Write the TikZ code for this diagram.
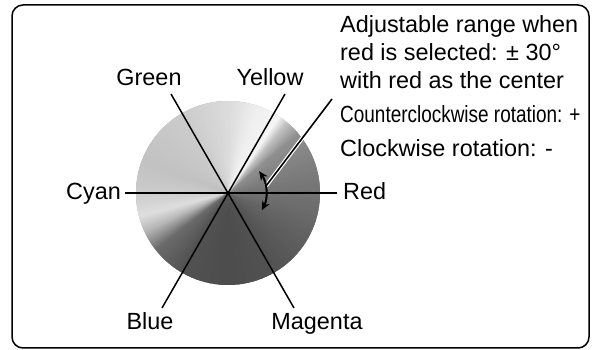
\documentclass[tikz,border=0pt]{standalone}
\usepackage{fontspec}
\setmainfont{Liberation Sans}
\usepackage{graphicx}
\usetikzlibrary{arrows.meta}
\begin{document}
\begin{tikzpicture}[x=1pt,y=1pt,
  lbl/.style={inner sep=0pt, font=\fontsize{23.4}{27}\selectfont},
  spoke/.style={draw=black, line width=1.5pt},
  frame/.style={draw=black, line width=1.5pt, rounded corners=11pt}]
\useasboundingbox (0,0) rectangle (594,350);
\draw[frame] (12,2) rectangle (589,345);
\coordinate (C) at (228,157);
% conical grey shading
\fill[black!40] (C) circle[radius=92];
\foreach \a/\pa/\b/\pb in {0/55/20/50, 20/50/40/44, 40/44/50/24, 50/24/56/4, 56/4/70/6, 70/6/90/14, 90/14/120/20, 120/20/160/24, 160/24/180/20, 180/20/195/13, 195/13/205/28, 205/28/218/58, 218/58/240/68, 240/68/270/70, 270/70/300/68, 300/68/330/62, 330/62/360/55} {
  \foreach \i in {0,...,9} {
    \pgfmathsetmacro\s{\a+(\b-\a)*\i/10}
    \pgfmathsetmacro\e{\a+(\b-\a)*(\i+1)/10+1.2}
    \pgfmathsetmacro\p{\pa+(\pb-\pa)*(\i+0.5)/10}
    \fill[black!\p] (C) -- +(\s:92) arc[start angle=\s, end angle=\e, radius=92] -- cycle;
  }
}
% spoke ends
\coordinate (cyanEnd) at (125,157);
\coordinate (redEnd) at (337,157);
\coordinate (greenEnd) at (171,256);
\coordinate (yellowEnd) at (285,256);
\coordinate (blueEnd) at (162,42);
\coordinate (magentaEnd) at (294,42);
\draw[spoke] (cyanEnd) -- (redEnd);
\draw[spoke] (greenEnd) -- (magentaEnd);
\draw[spoke] (yellowEnd) -- (blueEnd);
% labels
\node[lbl, anchor=base east] (cyan) at (121,150) {Cyan};
\node[lbl, anchor=base west] (red) at (343,150) {Red};
\node[lbl, anchor=base] (green) at (149,264) {Green};
\node[lbl, anchor=base] (yellow) at (270,264) {Yellow};
\node[lbl, anchor=base] (blue) at (150,20) {Blue};
\node[lbl, anchor=base] (magenta) at (317,20) {Magenta};
% explanation
\node[lbl, anchor=base west] (t1) at (340,317) {Adjustable range when};
\node[lbl, anchor=base west] (t2) at (340,289) {red is selected: ± 30°};
\node[lbl, anchor=base west] (t3) at (340,261) {with red as the center};
\node[lbl, anchor=base west] (t4) at (340,227) {\scalebox{0.81}[1]{Counterclockwise rotation: +}};
\node[lbl, anchor=base west] (t5) at (340,193) {Clockwise rotation: -};
% leader
\coordinate (leadA) at (266,164);
\coordinate (leadB) at (332,251);
\draw[white, line width=4pt] (leadA) -- (leadB);
\draw[black, line width=1.6pt] (leadA) -- (leadB);
% double arrow arc
\draw[line width=2pt, {Stealth[length=9pt,width=8pt]}-{Stealth[length=9pt,width=8pt]}]
  ([shift={(-27:38)}]C) arc[start angle=-27, end angle=35, radius=38];
\end{tikzpicture}
\end{document}
